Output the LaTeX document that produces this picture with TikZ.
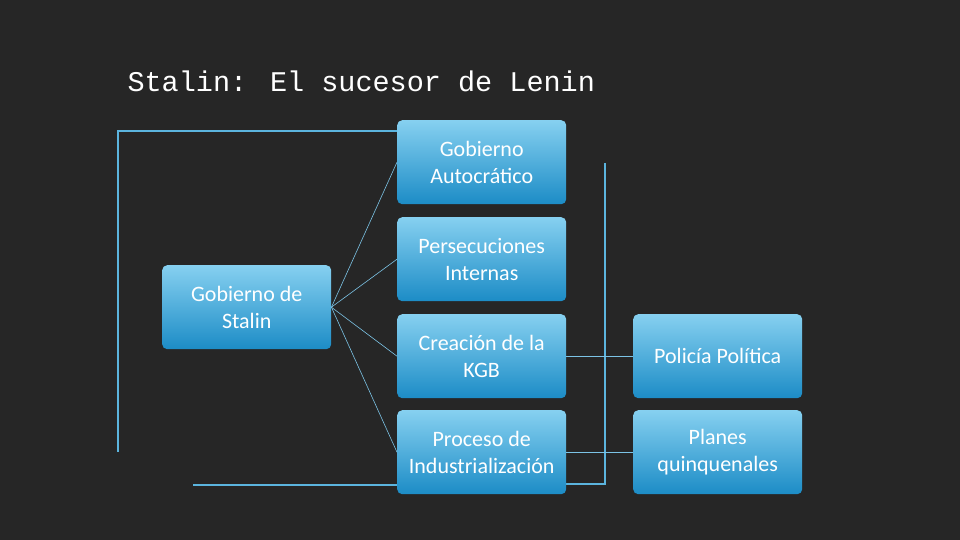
\documentclass[tikz,border=0pt]{standalone}
\usepackage{fontspec}
\setmainfont{Carlito}
\newfontfamily\titlefont{Liberation Mono}
\definecolor{bg}{HTML}{262626}
\definecolor{btop}{HTML}{86D0F0}
\definecolor{bbot}{HTML}{1C8CC6}
\definecolor{lineblue}{HTML}{5BB4DE}
\begin{document}
\begin{tikzpicture}[x=1pt,y=-1pt,
  box/.style={rounded corners=5pt,top color=btop,bottom color=bbot,minimum width=169pt,minimum height=84pt,
    text=white,align=center,font=\fontsize{22}{27}\selectfont,inner sep=2pt,anchor=north west},
  thin/.style={draw=lineblue!80!white,line width=0.6pt},
  brk/.style={draw=lineblue,line width=2pt}]
\fill[bg] (0,0) rectangle (960,540);
\useasboundingbox (0,0) rectangle (960,540);
\node[text=white,anchor=west,font=\titlefont\fontsize{28.5}{30}\selectfont] (title) at (124,81) {Stalin: El sucesor de Lenin};
\coordinate (tl) at (118,131); \coordinate (tr) at (397,131);
\coordinate (bl) at (118,452); \coordinate (b1) at (193,485); \coordinate (b2) at (397,485);
\draw[brk] (tr) -- (tl) -- (bl);
\draw[brk] (b1) -- (b2);
\coordinate (r1) at (605,163); \coordinate (r2) at (605,484); \coordinate (r3) at (566,484);
\draw[brk] (r1) -- (r2) -- (r3);
\node[box] (g) at (162,265) {Gobierno de\\Stalin};
\node[box] (a) at (397,120) {Gobierno\\Autocrático};
\node[box] (p) at (397,217) {Persecuciones\\Internas};
\node[box] (k) at (397,314) {Creación de la\\KGB};
\node[box] (i) at (397,410) {Proceso de\\Industrialización};
\node[box] (pp) at (633,314) {Policía Política};
\node[box] (pq) at (633,410) {Planes\\quinquenales};
\foreach \n in {a,p,k,i} \draw[thin] (g.east) -- (\n.west);
\draw[thin] (k.east) -- (pp.west);
\draw[thin] (i.east) -- (pq.west);
\end{tikzpicture}
\end{document}
